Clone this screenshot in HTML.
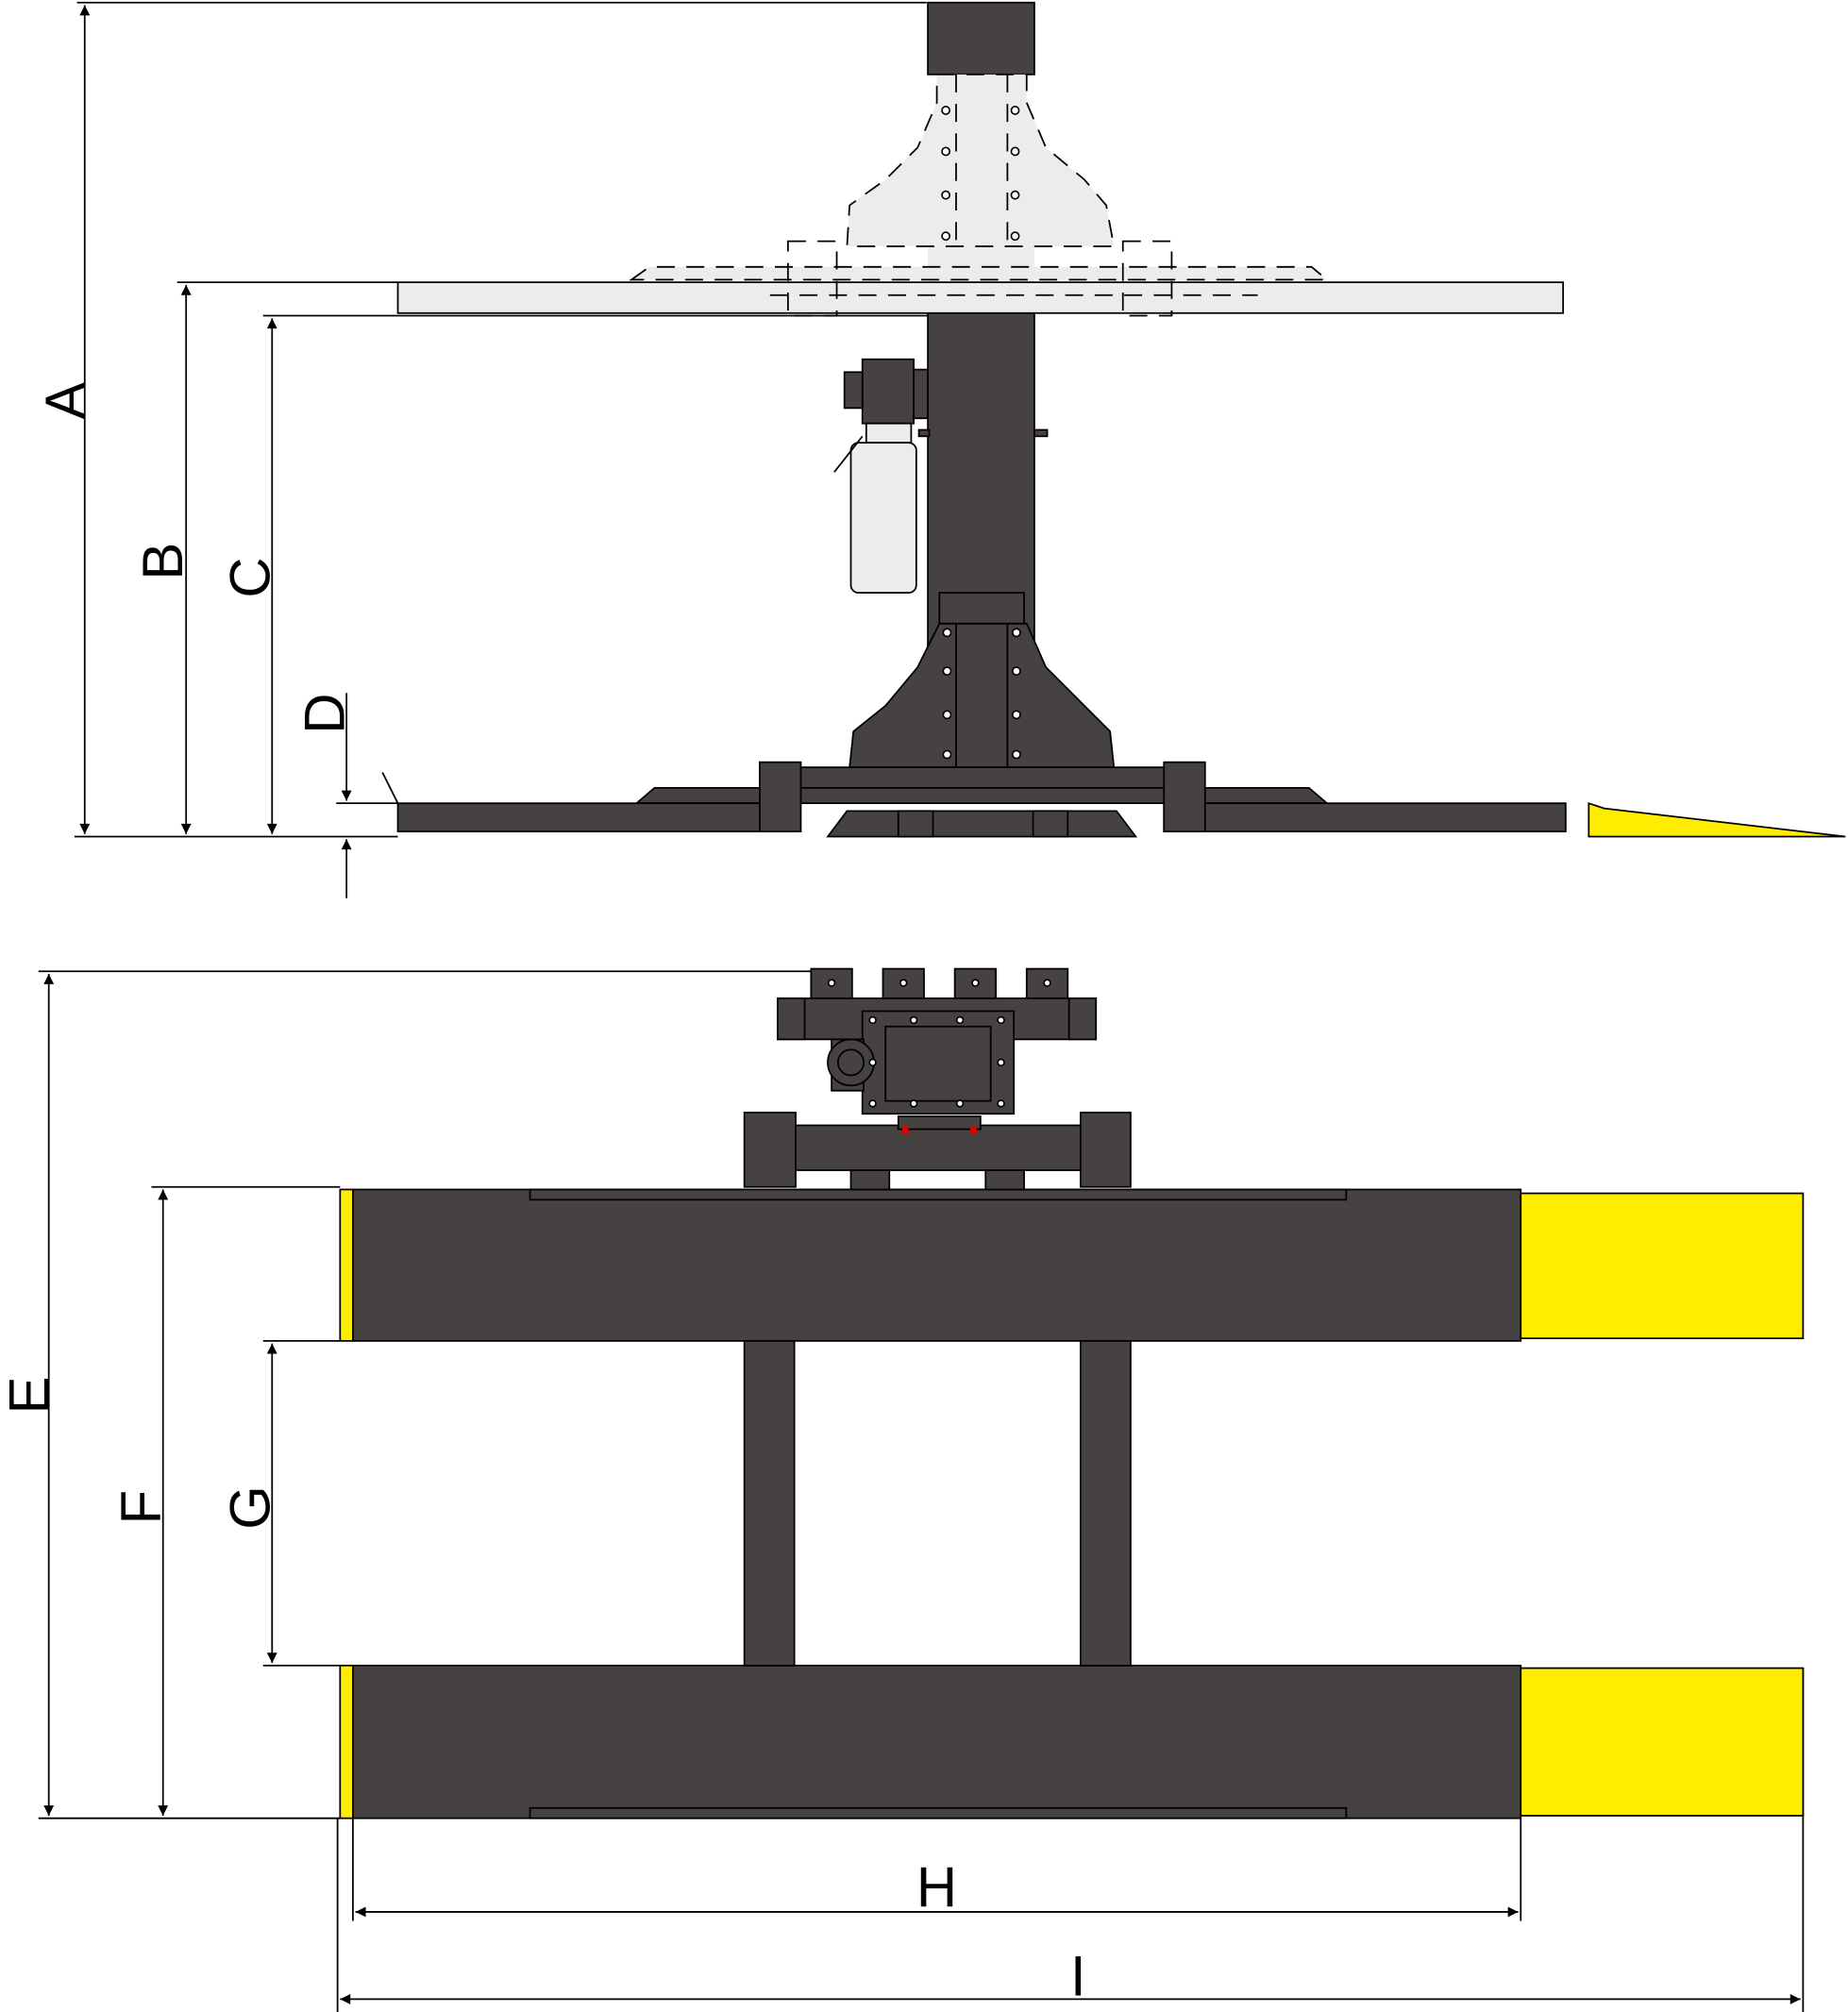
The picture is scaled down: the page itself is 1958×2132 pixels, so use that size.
<!DOCTYPE html>
<html><head><meta charset="utf-8"><style>
html,body{margin:0;padding:0;background:#fff;}
svg{display:block;}
text{font-family:"Liberation Sans",sans-serif;font-size:44px;fill:#000;}
</style></head><body>
<svg width="1958" height="2132" viewBox="0 0 1440 1568" xmlns="http://www.w3.org/2000/svg">
<defs>
<marker id="a" viewBox="0 0 10 10" refX="10" refY="5" markerWidth="14" markerHeight="8" orient="auto-start-reverse" markerUnits="userSpaceOnUse"><path d="M0,0 L10,5 L0,10 z" fill="#000"/></marker>
</defs>
<g stroke="#000" stroke-width="1.3" fill="none">
<line x1="60" y1="2" x2="722" y2="2"/>
<line x1="66" y1="4" x2="66" y2="650" marker-start="url(#a)" marker-end="url(#a)"/>
<line x1="138" y1="220" x2="310" y2="220"/>
<line x1="145" y1="222" x2="145" y2="650" marker-start="url(#a)" marker-end="url(#a)"/>
<line x1="205" y1="246" x2="725" y2="246"/>
<line x1="212" y1="248" x2="212" y2="650" marker-start="url(#a)" marker-end="url(#a)"/>
<line x1="58" y1="652" x2="310" y2="652"/>
<line x1="262" y1="626" x2="310" y2="626"/>
<line x1="270" y1="540" x2="270" y2="624" marker-end="url(#a)"/>
<line x1="270" y1="700" x2="270" y2="654" marker-end="url(#a)"/>
</g>
<text transform="translate(66,327) rotate(-90)">A</text>
<text transform="translate(142,452) rotate(-90)">B</text>
<text transform="translate(210,466) rotate(-90)">C</text>
<text transform="translate(268,572) rotate(-90)">D</text>

<g stroke="#000" stroke-width="1.3">
<rect x="723" y="2" width="83" height="56" fill="#474242"/>
<rect x="723" y="228" width="83" height="374" fill="#474242"/>
<rect x="730" y="228" width="70" height="12" fill="#474242"/>
<!-- ghost -->
<rect x="723" y="190" width="83" height="38" fill="#ececec" stroke="none"/>
<polygon points="730,58 800,58 800,80 815,115 845,140 862,160 868,192 660,192 662,160 690,140 715,115 730,80" fill="#ececec" stroke-dasharray="14,9"/>
<line x1="745" y1="58" x2="745" y2="192" stroke-dasharray="14,9"/>
<line x1="785" y1="58" x2="785" y2="192" stroke-dasharray="14,9"/>
<polygon points="492,218 506,208 1022,208 1034,218" fill="#ececec" stroke-dasharray="14,9"/>
<rect x="310" y="220" width="908" height="24" fill="#ececec"/>
<rect x="614" y="188" width="38" height="58" fill="none" stroke-dasharray="14,9"/>
<rect x="875" y="188" width="38" height="58" fill="none" stroke-dasharray="14,9"/>
<line x1="600" y1="230" x2="980" y2="230" stroke-dasharray="14,9" fill="none"/>
<!-- lower carriage -->
<rect x="732" y="462" width="66" height="24" fill="#474242"/>
<polygon points="732,486 800,486 815,520 845,550 865,570 868,598 662,598 665,570 690,550 715,520" fill="#474242"/>
<line x1="745" y1="486" x2="745" y2="598"/><line x1="785" y1="486" x2="785" y2="598"/>
<!-- base -->
<rect x="596" y="598" width="342" height="16" fill="#474242"/>
<polygon points="496,626 510,614 1020,614 1034,626" fill="#474242"/>
<rect x="310" y="626" width="310" height="22" fill="#474242"/>
<rect x="907" y="626" width="313" height="22" fill="#474242"/>
<rect x="592" y="594" width="32" height="54" fill="#474242"/>
<rect x="907" y="594" width="32" height="54" fill="#474242"/>
<polygon points="645,652 660,632 870,632 885,652" fill="#474242"/>
<rect x="700" y="632" width="27" height="20" fill="#474242"/>
<rect x="805" y="632" width="27" height="20" fill="#474242"/>
<line x1="298" y1="602" x2="310" y2="626"/>
<polygon points="1238,626 1250,630 1438,652 1238,652" fill="#ffed00"/>
<!-- power pack -->
<rect x="672" y="280" width="40" height="50" fill="#474242"/>
<rect x="658" y="290" width="14" height="28" fill="#474242"/>
<rect x="712" y="288" width="11" height="38" fill="#474242"/>
<rect x="675" y="330" width="35" height="15" fill="#ececec"/>
<rect x="663" y="345" width="51" height="117" rx="6" fill="#ececec"/>
<line x1="650" y1="368" x2="672" y2="340" fill="none"/>
<rect x="806" y="335" width="10" height="5" fill="#474242"/>
<rect x="716" y="335" width="8" height="5" fill="#474242"/>
</g>
<g fill="#fff" stroke="#000" stroke-width="1.2">
<circle cx="737" cy="86" r="3"/><circle cx="737" cy="118" r="3"/><circle cx="737" cy="152" r="3"/><circle cx="737" cy="184" r="3"/>
<circle cx="791" cy="86" r="3"/><circle cx="791" cy="118" r="3"/><circle cx="791" cy="152" r="3"/><circle cx="791" cy="184" r="3"/>
<circle cx="738" cy="493" r="3"/><circle cx="738" cy="523" r="3"/><circle cx="738" cy="557" r="3"/><circle cx="738" cy="588" r="3"/>
<circle cx="792" cy="493" r="3"/><circle cx="792" cy="523" r="3"/><circle cx="792" cy="557" r="3"/><circle cx="792" cy="588" r="3"/>
</g>

<g stroke="#000" stroke-width="1.3" fill="none">
<line x1="30" y1="757" x2="640" y2="757"/>
<line x1="38" y1="759" x2="38" y2="1415" marker-start="url(#a)" marker-end="url(#a)"/>
<line x1="118" y1="925" x2="265" y2="925"/>
<line x1="127" y1="927" x2="127" y2="1415" marker-start="url(#a)" marker-end="url(#a)"/>
<line x1="205" y1="1045" x2="265" y2="1045"/>
<line x1="205" y1="1298" x2="265" y2="1298"/>
<line x1="212" y1="1047" x2="212" y2="1296" marker-start="url(#a)" marker-end="url(#a)"/>
<line x1="30" y1="1417" x2="265" y2="1417"/>
<line x1="263" y1="1417" x2="263" y2="1568"/>
<line x1="275" y1="1417" x2="275" y2="1497"/>
<line x1="1185" y1="1417" x2="1185" y2="1497"/>
<line x1="1405" y1="1300" x2="1405" y2="1568"/>
<line x1="277" y1="1490" x2="1183" y2="1490" marker-start="url(#a)" marker-end="url(#a)"/>
<line x1="265" y1="1558" x2="1403" y2="1558" marker-start="url(#a)" marker-end="url(#a)"/>
</g>
<text transform="translate(38,1102) rotate(-90)">E</text>
<text transform="translate(125,1188) rotate(-90)">F</text>
<text transform="translate(210,1192) rotate(-90)">G</text>
<text x="714" y="1486">H</text>
<text x="834" y="1555">I</text>

<g stroke="#000" stroke-width="1.3">
<rect x="275" y="927" width="910" height="118" fill="#474242"/>
<rect x="265" y="927" width="10" height="118" fill="#ffed00"/>
<rect x="1185" y="930" width="220" height="113" fill="#ffed00"/>
<rect x="275" y="1298" width="910" height="119" fill="#474242"/>
<rect x="265" y="1298" width="10" height="119" fill="#ffed00"/>
<rect x="1185" y="1300" width="220" height="115" fill="#ffed00"/>
<rect x="413" y="927" width="636" height="8" fill="#474242"/>
<rect x="413" y="1409" width="636" height="8" fill="#474242"/>
<rect x="580" y="1045" width="39" height="253" fill="#474242"/>
<rect x="842" y="1045" width="39" height="253" fill="#474242"/>
<rect x="663" y="910" width="30" height="17" fill="#474242"/>
<rect x="768" y="910" width="30" height="17" fill="#474242"/>
<rect x="600" y="877" width="260" height="35" fill="#474242"/>
<rect x="580" y="867" width="40" height="58" fill="#474242"/>
<rect x="842" y="867" width="39" height="58" fill="#474242"/>
<rect x="632" y="755" width="32" height="24" fill="#474242"/>
<rect x="688" y="755" width="32" height="24" fill="#474242"/>
<rect x="744" y="755" width="32" height="24" fill="#474242"/>
<rect x="800" y="755" width="32" height="24" fill="#474242"/>
<rect x="606" y="778" width="248" height="32" fill="#474242"/>
<rect x="606" y="778" width="21" height="32" fill="#474242"/>
<rect x="833" y="778" width="21" height="32" fill="#474242"/>
<rect x="672" y="788" width="118" height="80" fill="#474242"/>
<rect x="690" y="800" width="82" height="58" fill="#474242"/>
<rect x="648" y="810" width="25" height="40" fill="#474242"/>
<circle cx="663" cy="828" r="18" fill="#474242"/>
<circle cx="663" cy="828" r="10" fill="#474242"/>
<rect x="700" y="870" width="64" height="10" fill="#474242"/>
</g>
<g fill="#fff" stroke="#000" stroke-width="1.2">
<circle cx="648" cy="766" r="2.5"/><circle cx="704" cy="766" r="2.5"/><circle cx="760" cy="766" r="2.5"/><circle cx="816" cy="766" r="2.5"/>
<circle cx="680" cy="795" r="2.5"/><circle cx="712" cy="795" r="2.5"/><circle cx="748" cy="795" r="2.5"/><circle cx="780" cy="795" r="2.5"/>
<circle cx="680" cy="860" r="2.5"/><circle cx="712" cy="860" r="2.5"/><circle cx="748" cy="860" r="2.5"/><circle cx="780" cy="860" r="2.5"/>
<circle cx="680" cy="828" r="2.5"/><circle cx="780" cy="828" r="2.5"/>
</g>
<rect x="703" y="878" width="5" height="6" fill="#d00"/>
<rect x="756" y="878" width="5" height="6" fill="#d00"/>
</svg>
</body></html>
